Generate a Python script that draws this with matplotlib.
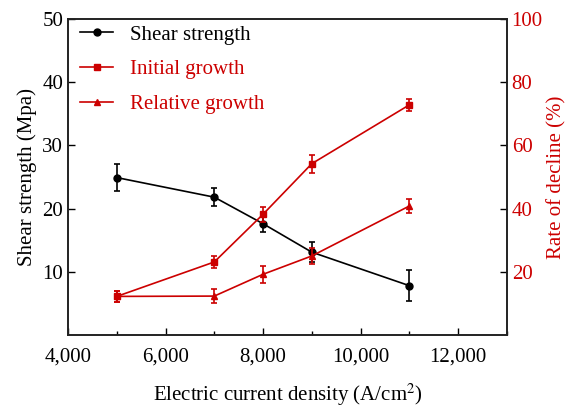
import matplotlib
matplotlib.use("Agg")
import matplotlib.pyplot as plt
from matplotlib.ticker import FuncFormatter, MultipleLocator

plt.rcParams['font.family'] = ['Liberation Serif', 'DejaVu Serif']
plt.rcParams['mathtext.fontset'] = 'stix'

current = [5000, 7000, 8000, 9000, 11000]
shear = [24.9, 21.8, 17.6, 13.1, 7.8]
shear_err = [2.1, 1.4, 1.3, 1.6, 2.5]
initial = [12.2, 23.1, 38.2, 54.2, 72.8]
initial_err = [1.7, 2.0, 2.4, 2.8, 1.8]
relative = [12.2, 12.3, 19.2, 25.0, 40.8]
relative_err = [1.8, 2.2, 2.7, 2.6, 2.2]

red = '#cc0000'
fs = 15

fig = plt.figure(figsize=(5.72, 4.12), dpi=100)
ax = fig.add_axes([0.119, 0.187, 0.767, 0.767])
ax2 = ax.twinx()

l1 = ax.errorbar(current, shear, yerr=shear_err, color='black', marker='o', ms=5,
                 lw=1.2, capsize=2.5, elinewidth=1.2, capthick=1.2, label='Shear strength')
l2 = ax2.errorbar(current, initial, yerr=initial_err, color=red, marker='s', ms=5,
                  lw=1.2, capsize=2.5, elinewidth=1.2, capthick=1.2, label='Initial growth')
l3 = ax2.errorbar(current, relative, yerr=relative_err, color=red, marker='^', ms=5,
                  lw=1.2, capsize=2.5, elinewidth=1.2, capthick=1.2, label='Relative growth')

ax.set_xlim(4000, 13000)
ax.set_ylim(0, 50)
ax2.set_ylim(0, 100)
ax.xaxis.set_major_locator(MultipleLocator(2000))
ax.xaxis.set_minor_locator(MultipleLocator(1000))
ax.xaxis.set_major_formatter(FuncFormatter(lambda v, p: f'{int(v):,}'))
ax.set_yticks([10, 20, 30, 40, 50])
ax2.set_yticks([20, 40, 60, 80, 100])

ax.tick_params(axis='both', which='major', direction='in', length=5, width=1, labelsize=fs)
ax.tick_params(axis='x', which='major', pad=9)
ax.tick_params(axis='x', which='minor', direction='in', length=3, width=1)
ax2.tick_params(axis='y', which='major', direction='in', length=5, width=1, labelsize=fs, labelcolor=red)
for a in (ax, ax2):
    for s in a.spines.values():
        s.set_linewidth(1.2)
        s.set_color('#222222')

ax.set_xlabel('Electric current density (A/cm$^2$)', fontsize=fs, labelpad=11)
ax.set_ylabel('Shear strength (Mpa)', fontsize=fs, labelpad=4)
ax2.set_ylabel('Rate of decline (%)', fontsize=fs, color=red, labelpad=3)

leg = ax.legend([l1[0], l2[0], l3[0]], ['Shear strength', 'Initial growth', 'Relative growth'],
                loc='upper left', frameon=False, fontsize=fs, handlelength=1.55,
                handletextpad=0.85, labelspacing=0.72, borderpad=0.2, borderaxespad=0.1,
                bbox_to_anchor=(0.014, 1.0))
for t, c in zip(leg.get_texts(), ['black', red, red]):
    t.set_color(c)

fig.savefig('out.png', dpi=100)
